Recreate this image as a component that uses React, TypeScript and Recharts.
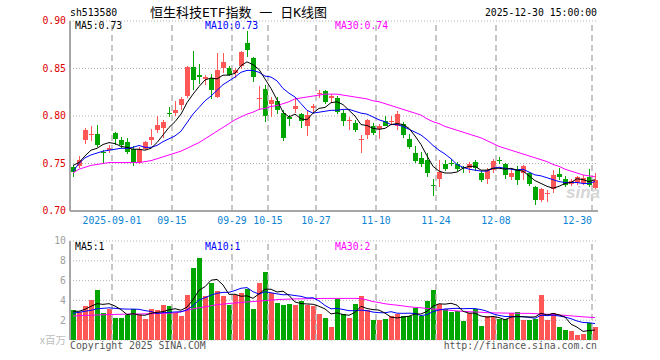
import React from 'react';
import { ComposedChart, Bar, Line, XAxis, YAxis, CartesianGrid, ReferenceLine } from 'recharts';

const dates = [
  '2025-08-21','2025-08-22','2025-08-25','2025-08-26','2025-08-27','2025-08-28','2025-08-29',
  '2025-09-01','2025-09-02','2025-09-03','2025-09-04','2025-09-05','2025-09-08','2025-09-09','2025-09-10','2025-09-11','2025-09-12',
  '2025-09-15','2025-09-16','2025-09-17','2025-09-18','2025-09-19','2025-09-22','2025-09-23','2025-09-24','2025-09-25','2025-09-26',
  '2025-09-29','2025-09-30',
  '2025-10-09','2025-10-10','2025-10-13','2025-10-14','2025-10-15','2025-10-16','2025-10-17','2025-10-20','2025-10-21','2025-10-22',
  '2025-10-23','2025-10-24','2025-10-27','2025-10-28','2025-10-29','2025-10-30','2025-10-31',
  '2025-11-03','2025-11-04','2025-11-05','2025-11-06','2025-11-07','2025-11-10','2025-11-11','2025-11-12','2025-11-13','2025-11-14',
  '2025-11-17','2025-11-18','2025-11-19','2025-11-20','2025-11-21','2025-11-24','2025-11-25','2025-11-26','2025-11-27','2025-11-28',
  '2025-12-01','2025-12-02','2025-12-03','2025-12-04','2025-12-05','2025-12-08','2025-12-09','2025-12-10','2025-12-11','2025-12-12',
  '2025-12-15','2025-12-16','2025-12-17','2025-12-18','2025-12-19','2025-12-22','2025-12-23','2025-12-24','2025-12-25','2025-12-26',
  '2025-12-29','2025-12-30',
];

const openP = [
  0.746,0.747,0.775,0.780,0.781,0.762,0.764,0.782,0.775,0.773,
  0.765,0.751,0.765,0.775,0.785,0.787,0.803,0.803,0.812,0.821,
  0.852,0.843,0.839,0.840,0.820,0.851,0.851,0.845,0.853,0.877,
  0.861,0.818,0.828,0.813,0.816,0.803,0.799,0.807,0.802,0.789,
  0.808,0.823,0.826,0.819,0.819,0.803,0.795,0.793,0.775,0.780,
  0.789,0.786,0.795,0.794,0.790,0.792,0.776,0.761,0.756,0.754,
  0.727,0.734,0.750,0.751,0.750,0.746,0.745,0.752,0.740,0.734,
  0.743,0.754,0.750,0.736,0.744,0.740,0.740,0.725,0.712,0.718,
  0.723,0.739,0.734,0.728,0.729,0.729,0.736,0.724,
];
const highP = [
  0.748,0.758,0.787,0.789,0.791,0.764,0.770,0.783,0.778,0.777,
  0.768,0.767,0.774,0.786,0.800,0.796,0.809,0.816,0.820,0.853,
  0.868,0.855,0.843,0.844,0.866,0.866,0.853,0.851,0.868,0.889,
  0.862,0.832,0.833,0.820,0.820,0.806,0.801,0.819,0.803,0.805,
  0.813,0.827,0.827,0.823,0.821,0.806,0.799,0.796,0.780,0.797,
  0.793,0.792,0.800,0.800,0.805,0.794,0.781,0.768,0.762,0.761,
  0.734,0.754,0.754,0.755,0.752,0.747,0.752,0.754,0.742,0.745,
  0.755,0.757,0.751,0.745,0.747,0.748,0.741,0.726,0.724,0.722,
  0.743,0.745,0.737,0.734,0.737,0.738,0.744,0.740,
];
const lowP = [
  0.736,0.745,0.771,0.774,0.767,0.750,0.761,0.770,0.766,0.760,
  0.747,0.750,0.764,0.770,0.782,0.777,0.799,0.800,0.806,0.819,
  0.827,0.834,0.833,0.818,0.819,0.845,0.842,0.840,0.849,0.862,
  0.836,0.806,0.794,0.799,0.802,0.774,0.790,0.803,0.787,0.779,
  0.803,0.819,0.813,0.814,0.802,0.790,0.785,0.783,0.761,0.776,
  0.780,0.776,0.789,0.791,0.785,0.777,0.765,0.751,0.746,0.736,
  0.716,0.725,0.742,0.747,0.742,0.740,0.740,0.742,0.731,0.728,
  0.740,0.750,0.734,0.733,0.727,0.733,0.726,0.706,0.710,0.710,
  0.719,0.733,0.725,0.726,0.727,0.727,0.725,0.722,
];
const closeP = [
  0.741,0.754,0.785,0.781,0.769,0.761,0.766,0.776,0.769,0.762,
  0.751,0.765,0.773,0.778,0.791,0.794,0.802,0.806,0.818,0.852,
  0.838,0.841,0.841,0.827,0.848,0.857,0.843,0.848,0.867,0.869,
  0.841,0.819,0.800,0.817,0.806,0.777,0.797,0.811,0.795,0.801,
  0.811,0.824,0.815,0.821,0.804,0.795,0.796,0.785,0.776,0.796,
  0.782,0.790,0.790,0.795,0.802,0.780,0.767,0.753,0.749,0.740,
  0.726,0.741,0.744,0.750,0.744,0.745,0.750,0.745,0.733,0.743,
  0.753,0.753,0.738,0.740,0.733,0.747,0.728,0.712,0.723,0.719,
  0.738,0.736,0.727,0.732,0.736,0.735,0.727,0.733,
];

const ma5 = [
  0.748,0.751,0.758,0.764,0.766,0.770,0.772,0.771,0.768,0.767,
  0.765,0.765,0.764,0.766,0.772,0.780,0.788,0.794,0.802,0.814,
  0.823,0.831,0.838,0.840,0.839,0.843,0.843,0.845,0.853,0.857,
  0.854,0.849,0.839,0.829,0.817,0.804,0.799,0.802,0.797,0.796,
  0.803,0.808,0.809,0.814,0.815,0.812,0.806,0.800,0.791,0.790,
  0.787,0.786,0.787,0.791,0.792,0.791,0.787,0.779,0.770,0.758,
  0.747,0.742,0.740,0.740,0.741,0.745,0.747,0.747,0.743,0.743,
  0.745,0.745,0.744,0.745,0.743,0.742,0.737,0.732,0.729,0.726,
  0.724,0.726,0.729,0.730,0.734,0.733,0.731,0.733,
];
const ma10 = [
  0.742,0.750,0.756,0.759,0.761,0.763,0.764,0.765,0.766,0.766,
  0.767,0.769,0.767,0.767,0.769,0.773,0.776,0.779,0.784,0.793,
  0.802,0.809,0.816,0.821,0.827,0.833,0.837,0.841,0.846,0.848,
  0.848,0.846,0.842,0.841,0.837,0.829,0.824,0.820,0.813,0.806,
  0.803,0.804,0.805,0.806,0.806,0.807,0.807,0.805,0.803,0.802,
  0.799,0.796,0.794,0.791,0.791,0.789,0.786,0.783,0.780,0.775,
  0.769,0.764,0.760,0.755,0.749,0.746,0.744,0.743,0.742,0.742,
  0.745,0.746,0.745,0.744,0.743,0.744,0.741,0.738,0.737,0.735,
  0.733,0.731,0.730,0.730,0.730,0.729,0.729,0.731,
];
const ma30 = [
  0.740,0.744,0.746,0.748,0.749,0.750,0.751,0.751,0.751,0.751,
  0.751,0.751,0.752,0.753,0.755,0.757,0.759,0.761,0.763,0.766,
  0.769,0.772,0.776,0.780,0.784,0.788,0.792,0.796,0.799,0.802,
  0.804,0.807,0.808,0.810,0.811,0.813,0.815,0.818,0.819,0.820,
  0.821,0.822,0.823,0.823,0.823,0.822,0.821,0.820,0.819,0.818,
  0.816,0.815,0.813,0.811,0.809,0.807,0.805,0.803,0.801,0.797,
  0.794,0.792,0.789,0.787,0.785,0.783,0.781,0.779,0.777,0.774,
  0.771,0.768,0.766,0.764,0.762,0.760,0.758,0.756,0.754,0.752,
  0.749,0.747,0.744,0.742,0.740,0.738,0.737,0.736,
];

const volume = [
  3.02,2.82,3.42,4.03,5.04,2.69,3.16,2.22,2.22,2.55,
  3.09,2.55,2.11,3.16,3.02,3.52,3.42,2.69,2.42,4.53,
  7.25,8.26,4.43,5.74,4.93,4.43,3.52,4.50,4.70,5.17,
  3.16,5.77,6.85,4.70,3.76,3.56,3.62,3.56,3.90,3.56,
  3.42,2.59,2.22,1.34,4.13,2.58,2.25,3.63,4.43,3.02,
  2.01,2.01,2.11,2.42,2.62,2.42,2.42,3.26,2.42,3.93,
  5.04,3.63,3.09,2.86,2.96,1.95,2.69,3.09,1.41,2.42,
  2.28,2.08,2.08,2.69,2.82,2.01,2.01,2.11,4.53,2.01,
  2.75,1.28,1.01,0.94,0.50,0.60,1.68,1.34,
];
const volMa5 = [
  2.90,2.90,3.10,3.40,3.67,3.60,3.67,3.43,3.07,2.57,
  2.65,2.53,2.50,2.69,2.79,2.87,3.05,3.16,3.01,3.32,
  4.06,5.03,5.38,6.04,6.12,5.56,4.61,4.62,4.42,4.46,
  4.21,4.66,5.13,5.13,4.85,4.93,4.50,3.84,3.68,3.64,
  3.61,3.41,3.14,2.63,2.74,2.57,2.50,2.79,3.40,3.18,
  3.07,3.02,2.72,2.31,2.23,2.32,2.40,2.63,2.63,2.89,
  3.41,3.66,3.62,3.71,3.52,2.90,2.71,2.71,2.42,2.31,
  2.38,2.26,2.05,2.31,2.39,2.34,2.32,2.33,2.70,2.53,
  2.68,2.54,2.32,1.60,1.30,0.87,0.95,1.01,
];
const volMa10 = [
  2.70,2.80,2.90,3.00,3.15,3.20,3.25,3.20,3.15,3.12,
  3.12,3.10,2.97,2.88,2.68,2.76,2.79,2.83,2.85,3.05,
  3.47,4.04,4.27,4.53,4.72,4.81,4.82,5.00,5.23,5.29,
  4.88,4.64,4.88,4.77,4.66,4.57,4.58,4.49,4.41,4.24,
  4.27,3.95,3.49,3.15,3.19,3.09,2.96,2.96,3.02,2.96,
  2.82,2.76,2.75,2.86,2.71,2.69,2.71,2.67,2.47,2.56,
  2.87,3.03,3.13,3.17,3.20,3.16,3.18,3.17,3.07,2.91,
  2.64,2.48,2.38,2.37,2.35,2.36,2.29,2.19,2.50,2.46,
  2.51,2.43,2.32,2.15,1.92,1.77,1.74,1.66,
];
const volMa30 = [
  2.42,2.45,2.48,2.50,2.53,2.55,2.57,2.58,2.60,2.61,
  2.62,2.63,2.64,2.66,2.67,2.69,2.71,2.74,2.85,3.00,
  3.15,3.25,3.35,3.45,3.57,3.63,3.69,3.74,3.79,3.84,
  3.88,3.93,3.98,4.03,4.08,4.11,4.13,4.15,4.16,4.17,
  4.18,4.19,4.20,4.20,4.20,4.20,4.20,4.20,4.18,4.05,
  3.88,3.78,3.66,3.58,3.52,3.44,3.36,3.30,3.25,3.19,
  3.13,3.09,3.04,2.99,2.94,2.89,2.86,2.83,2.80,2.76,
  2.74,2.73,2.72,2.71,2.70,2.69,2.69,2.66,2.63,2.60,
  2.57,2.53,2.49,2.44,2.39,2.34,2.30,2.27,
];

const tickDates = ['2025-09-01','2025-09-15','2025-09-29','2025-10-15','2025-10-27','2025-11-10','2025-11-24','2025-12-08','2025-12-30'];
const priceTicks = [0.7, 0.75, 0.8, 0.85, 0.9];
const volTicks = [2, 4, 6, 8, 10];

const RED = '#ff5656';
const GREEN = '#00a600';
const MONO = '"DejaVu Sans Mono", "Liberation Mono", monospace';
const TITLE_FONT = '"DejaVu Sans Mono", "Noto Sans CJK SC", sans-serif';
const CJK = '"Noto Sans CJK SC", "Noto Sans", sans-serif';
const BORDER = '#a6a6a6';
const GRID = '#b4b4b4';

const rows = dates.map((d, i) => ({
  date: d,
  open: openP[i],
  high: highP[i],
  low: lowP[i],
  close: closeP[i],
  range: [lowP[i], highP[i]],
  up: closeP[i] >= openP[i],
  ma5: ma5[i],
  ma10: ma10[i],
  ma30: ma30[i],
  vol: volume[i],
  vma5: volMa5[i],
  vma10: volMa10[i],
  vma30: volMa30[i],
}));

const Candle = (props: any) => {
  const { x, y, height, payload } = props;
  if (x == null || y == null || !payload) return null;
  const top0 = Math.min(y, y + height);
  const h = Math.abs(height);
  const span = payload.high - payload.low;
  const py = (p: number) => top0 + ((payload.high - p) / span) * h;
  const color = payload.up ? RED : GREEN;
  const left = Math.floor(x + 0.01);
  const bt = py(Math.max(payload.open, payload.close));
  const bb = py(Math.min(payload.open, payload.close));
  const bh = Math.max(1, bb - bt);
  return (
    <g shapeRendering="crispEdges">
      <rect x={left + 2} y={top0} width={1} height={h} fill={color} />
      <rect x={left} y={bt} width={5} height={bh} fill={color} />
    </g>
  );
};

const VolBar = (props: any) => {
  const { x, y, height, payload } = props;
  if (x == null || y == null || !payload) return null;
  const top0 = Math.min(y, y + height);
  return (
    <rect shapeRendering="crispEdges" x={Math.floor(x + 0.01)} y={top0} width={5} height={Math.abs(height)} fill={payload.up ? RED : GREEN} />
  );
};

const DateTick = (props: any) => {
  const { x, y, payload } = props;
  const off = payload && payload.offset != null ? payload.offset : 3;
  const v: string = payload.value;
  const label = v === tickDates[0] ? v : v.slice(5);
  const last = v === tickDates[tickDates.length - 1];
  return (
    <text x={x - off} y={y} dy="0.71em" textAnchor={last ? 'end' : 'middle'} fill="#0b84d4" fontFamily={MONO} fontSize={9.8}>
      {label}
    </text>
  );
};

const txt = (extra: React.CSSProperties): React.CSSProperties => ({
  position: 'absolute',
  fontFamily: MONO,
  fontSize: 9.8,
  lineHeight: '10px',
  whiteSpace: 'nowrap',
  ...extra,
});

export default function App() {
  const last = rows.length - 1;
  return (
    <div style={{ position: 'absolute', left: 0, top: 0, width: 660, height: 360, background: '#fff', overflow: 'hidden' }}>
      <div style={{ position: 'absolute', left: 0, top: 0 }}>
        <ComposedChart width={660} height={235} data={rows} margin={{ top: 21, right: 62, bottom: 4, left: 0 }}>
          <CartesianGrid vertical={false} stroke={GRID} strokeDasharray="1 2" />
          {tickDates.map((d) => (
            <ReferenceLine key={d} x={d} position="start" stroke={GRID} strokeWidth={1.5} strokeDasharray="6 4" />
          ))}
          <XAxis dataKey="date" ticks={tickDates} interval={0} tick={<DateTick />} tickLine={false} tickSize={4} tickMargin={2} height={20} axisLine={{ stroke: BORDER, strokeWidth: 2 }} />
          <XAxis xAxisId="t" dataKey="date" orientation="top" height={0} tick={false} tickLine={false} axisLine={{ stroke: BORDER, strokeWidth: 2 }} />
          <YAxis type="number" domain={[0.7, 0.9]} allowDataOverflow ticks={priceTicks} interval={0} width={70} tickFormatter={(v: number) => v.toFixed(2)} tickLine={false} tickSize={2} tickMargin={2} axisLine={{ stroke: BORDER, strokeWidth: 2 }} tick={{ fill: '#dd0000', fontFamily: MONO, fontSize: 9.8 }} />
          <YAxis yAxisId="r" orientation="right" type="number" domain={[0.7, 0.9]} width={0} tick={false} tickLine={false} axisLine={{ stroke: BORDER, strokeWidth: 2 }} />
          <Bar dataKey="range" barSize={5} isAnimationActive={false} shape={(p: any) => <Candle {...p} />} />
          <Line type="linear" dataKey="ma30" stroke="#ff00ff" strokeWidth={1} dot={false} activeDot={false} isAnimationActive={false} />
          <Line type="linear" dataKey="ma10" stroke="#0000ff" strokeWidth={1} dot={false} activeDot={false} isAnimationActive={false} />
          <Line type="linear" dataKey="ma5" stroke="#000000" strokeWidth={1} dot={false} activeDot={false} isAnimationActive={false} />
        </ComposedChart>
      </div>

      <div style={{ position: 'absolute', left: 0, top: 236 }}>
        <ComposedChart width={660} height={124} data={rows} margin={{ top: 5, right: 62, bottom: 20, left: 0 }}>
          <CartesianGrid vertical={false} stroke={GRID} strokeDasharray="1 2" />
          {tickDates.map((d) => (
            <ReferenceLine key={d} x={d} position="start" stroke={GRID} strokeWidth={1.5} strokeDasharray="6 4" />
          ))}
          <XAxis dataKey="date" height={0} tick={false} tickLine={false} axisLine={{ stroke: BORDER, strokeWidth: 2 }} />
          <XAxis xAxisId="t" dataKey="date" orientation="top" height={0} tick={false} tickLine={false} axisLine={{ stroke: BORDER, strokeWidth: 2 }} />
          <YAxis type="number" domain={[0, 10]} allowDataOverflow ticks={volTicks} interval={0} width={70} tickLine={false} tickSize={2} tickMargin={2} axisLine={{ stroke: BORDER, strokeWidth: 2 }} tick={{ fill: '#a0a0a0', fontFamily: MONO, fontSize: 9.8 }} />
          <YAxis yAxisId="r" orientation="right" type="number" domain={[0, 10]} width={0} tick={false} tickLine={false} axisLine={{ stroke: BORDER, strokeWidth: 2 }} />
          <Bar dataKey="vol" barSize={5} isAnimationActive={false} shape={(p: any) => <VolBar {...p} />} />
          <Line type="linear" dataKey="vma30" stroke="#ff00ff" strokeWidth={1} dot={false} activeDot={false} isAnimationActive={false} />
          <Line type="linear" dataKey="vma10" stroke="#0000ff" strokeWidth={1} dot={false} activeDot={false} isAnimationActive={false} />
          <Line type="linear" dataKey="vma5" stroke="#000000" strokeWidth={1} dot={false} activeDot={false} isAnimationActive={false} />
        </ComposedChart>
      </div>

      <div style={txt({ left: 70, top: 8, color: '#000' })}>sh513580</div>
      <div style={{ position: 'absolute', left: 150, top: 6, fontFamily: TITLE_FONT, fontSize: 13, lineHeight: '13px', color: '#000', whiteSpace: 'pre' }}>恒生科技ETF指数 一 日K线图</div>
      <div style={txt({ left: 0, width: 597, textAlign: 'right', top: 8, color: '#000' })}>2025-12-30 15:00:00</div>

      <div style={txt({ left: 75, top: 21, color: '#000' })}>{`MA5:${rows[last].ma5.toFixed(2)}`}</div>
      <div style={txt({ left: 205, top: 21, color: '#0000ff' })}>{`MA10:${rows[last].ma10.toFixed(2)}`}</div>
      <div style={txt({ left: 335, top: 21, color: '#ff00ff' })}>{`MA30:${rows[last].ma30.toFixed(2)}`}</div>

      <div style={txt({ left: 75, top: 242, color: '#000' })}>{`MA5:${Math.floor(rows[last].vma5)}`}</div>
      <div style={txt({ left: 205, top: 242, color: '#0000ff' })}>{`MA10:${Math.floor(rows[last].vma10)}`}</div>
      <div style={txt({ left: 335, top: 242, color: '#ff00ff' })}>{`MA30:${Math.floor(rows[last].vma30)}`}</div>

      <div style={{ position: 'absolute', left: 0, width: 66, textAlign: 'right', top: 334, fontFamily: CJK, fontSize: 10.5, lineHeight: '11px', color: '#bdbdbd', whiteSpace: 'nowrap' }}>x百万</div>
      <div style={txt({ left: 70, top: 341, color: '#555' })}>Copyright 2025 SINA.COM</div>
      <div style={txt({ left: 0, width: 597, textAlign: 'right', top: 341, color: '#555' })}>http://finance.sina.com.cn</div>
      <div style={{ position: 'absolute', left: 566, top: 184, fontFamily: '"Liberation Sans", sans-serif', fontSize: 17, fontWeight: 'bold', fontStyle: 'italic', lineHeight: '18px', color: '#d6d6d6', whiteSpace: 'nowrap' }}>sina</div>
    </div>
  );
}
